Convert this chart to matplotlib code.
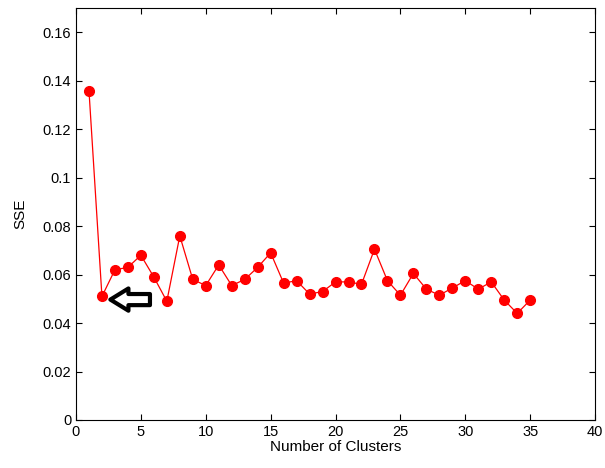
import matplotlib
matplotlib.use('Agg')
import matplotlib.pyplot as plt

# data
clusters = list(range(1, 36))
sse = [0.136, 0.051, 0.062, 0.063, 0.068, 0.059, 0.049, 0.076, 0.058, 0.0555,
       0.064, 0.0555, 0.058, 0.063, 0.069, 0.0565, 0.0575, 0.052, 0.053, 0.057,
       0.057, 0.056, 0.0705, 0.0575, 0.0515, 0.0605, 0.054, 0.0515, 0.0545, 0.0575,
       0.054, 0.057, 0.0495, 0.044, 0.0495]
x_ticks = [0, 5, 10, 15, 20, 25, 30, 35, 40]
y_ticks = [0, 0.02, 0.04, 0.06, 0.08, 0.1, 0.12, 0.14, 0.16]
y_labels = ['0', '0.02', '0.04', '0.06', '0.08', '0.1', '0.12', '0.14', '0.16']

plt.rcParams['font.family'] = ['Liberation Sans', 'DejaVu Sans']
plt.rcParams['font.size'] = 10.5

fig = plt.figure(figsize=(6.05, 4.68), dpi=100)
ax = fig.add_axes([0.1256, 0.1026, 0.858, 0.880])

ax.plot(clusters, sse, color='red', lw=0.9, marker='o', markersize=7,
        markerfacecolor='red', markeredgecolor='red')

# hollow arrow pointing at the elbow
ax.annotate('', xy=(2.65, 0.0497), xytext=(5.7, 0.0497),
            arrowprops=dict(arrowstyle='simple,head_width=1.6,head_length=1.3,tail_width=0.8',
                            fc='white', ec='black', lw=3, mutation_scale=10,
                            shrinkA=0, shrinkB=0))

ax.set_xlim(0, 40)
ax.set_ylim(0, 0.17)
ax.set_xticks(x_ticks)
ax.set_yticks(y_ticks)
ax.set_yticklabels(y_labels)
ax.tick_params(direction='in', top=True, right=True, length=4, width=0.8, labelsize=10.5)
for s in ax.spines.values():
    s.set_linewidth(0.8)

ax.set_xlabel('Number of Clusters', fontsize=11, labelpad=1)
ax.set_ylabel('SSE', fontsize=11)
ax.yaxis.set_label_coords(-0.094, 0.5)

fig.savefig('out.png', dpi=100)
